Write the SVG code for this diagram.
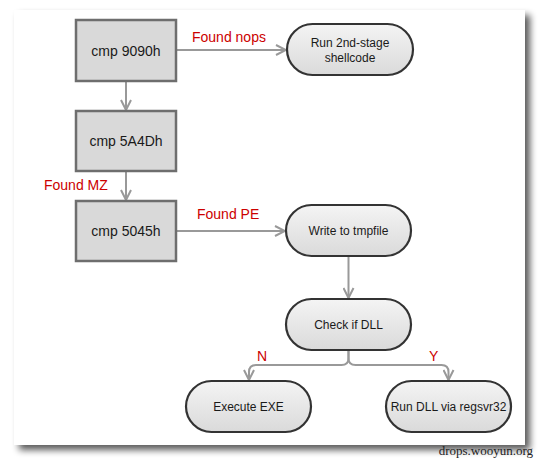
<svg xmlns="http://www.w3.org/2000/svg" width="539" height="463" viewBox="0 0 539 463">
<defs>
<filter id="shadow" x="-10%" y="-10%" width="120%" height="120%">
<feGaussianBlur in="SourceAlpha" stdDeviation="3.5"/>
<feOffset dx="5" dy="5" result="b"/>
<feComponentTransfer><feFuncA type="linear" slope="0.65"/></feComponentTransfer>
<feMerge><feMergeNode/><feMergeNode in="SourceGraphic"/></feMerge>
</filter>
<linearGradient id="pillg" x1="0" y1="0" x2="0" y2="1">
<stop offset="0" stop-color="#f4f4f4"/>
<stop offset="1" stop-color="#dadada"/>
</linearGradient>
<marker id="arr" viewBox="0 0 12 12" refX="11" refY="6" markerWidth="12" markerHeight="12" markerUnits="userSpaceOnUse" orient="auto">
<path d="M1 1 L11 6 L1 11" fill="none" stroke="#999" stroke-width="2"/>
</marker>
<style>
.box{fill:#d9d9d9;stroke:#6e6e6e;stroke-width:2.5}
.pill{fill:url(#pillg);stroke:#333;stroke-width:2.2}
.bt{font-family:"Liberation Sans",Arial,sans-serif;font-size:14px;fill:#1a1a1a;text-anchor:middle}
.pt{font-family:"Liberation Sans",Arial,sans-serif;font-size:12px;fill:#1a1a1a;text-anchor:middle}
.lbl{font-family:"Liberation Sans",Arial,sans-serif;font-size:14px;fill:#cc0000}
.conn{fill:none;stroke:#999;stroke-width:2}
</style>
</defs>
<rect x="0" y="0" width="539" height="463" fill="#ffffff"/>
<rect x="14" y="10" width="511" height="435" fill="#ffffff" filter="url(#shadow)"/>

<g id="connectors">
<path class="conn" d="M126 81 V110" marker-end="url(#arr)"/>
<path class="conn" d="M126 171 V200" marker-end="url(#arr)"/>
<path class="conn" d="M177 50 H286" marker-end="url(#arr)"/>
<path class="conn" d="M177 231 H285" marker-end="url(#arr)"/>
<path class="conn" d="M348.5 257 V298" marker-end="url(#arr)"/>
<path class="conn" d="M348.5 351 V358 Q348.5 365 341.5 365 H256 Q249 365 249 372 V380" marker-end="url(#arr)"/>
<path class="conn" d="M348.5 351 V358 Q348.5 365 355.5 365 H441.5 Q448.5 365 448.5 372 V380" marker-end="url(#arr)"/>
<text class="lbl" x="192" y="42">Found nops</text>
<text class="lbl" x="44" y="190">Found MZ</text>
<text class="lbl" x="197" y="219">Found PE</text>
<text class="lbl" x="257" y="361">N</text>
<text class="lbl" x="429" y="361">Y</text>
</g>

<g id="cmp9090h">
<rect class="box" x="76" y="20" width="100" height="61"/>
<text class="bt" x="126" y="56">cmp 9090h</text>
</g>
<g id="cmp5A4Dh">
<rect class="box" x="76" y="111" width="100" height="60"/>
<text class="bt" x="126" y="146">cmp 5A4Dh</text>
</g>
<g id="cmp5045h">
<rect class="box" x="76" y="201" width="100" height="60"/>
<text class="bt" x="126" y="236">cmp 5045h</text>
</g>
<g id="run2nd">
<rect class="pill" x="287" y="24" width="126" height="51" rx="25.5"/>
<text class="pt" x="350" y="47">Run 2nd-stage</text>
<text class="pt" x="350" y="62">shellcode</text>
</g>
<g id="writetmp">
<rect class="pill" x="286" y="205" width="125" height="51" rx="25.5"/>
<text class="pt" x="348.5" y="235">Write to tmpfile</text>
</g>
<g id="checkdll">
<rect class="pill" x="286" y="299" width="125" height="51" rx="25.5"/>
<text class="pt" x="348.5" y="329">Check if DLL</text>
</g>
<g id="execexe">
<rect class="pill" x="186" y="381" width="125" height="51" rx="25.5"/>
<text class="pt" x="248.5" y="411">Execute EXE</text>
</g>
<g id="rundll">
<rect class="pill" x="386" y="381" width="125" height="51" rx="25.5"/>
<text class="pt" x="448.5" y="411">Run DLL via regsvr32</text>
</g>
<text x="533" y="455" text-anchor="end" font-family="'Liberation Serif','Times New Roman',serif" font-size="13" fill="#222">drops.wooyun.org</text>
</svg>
